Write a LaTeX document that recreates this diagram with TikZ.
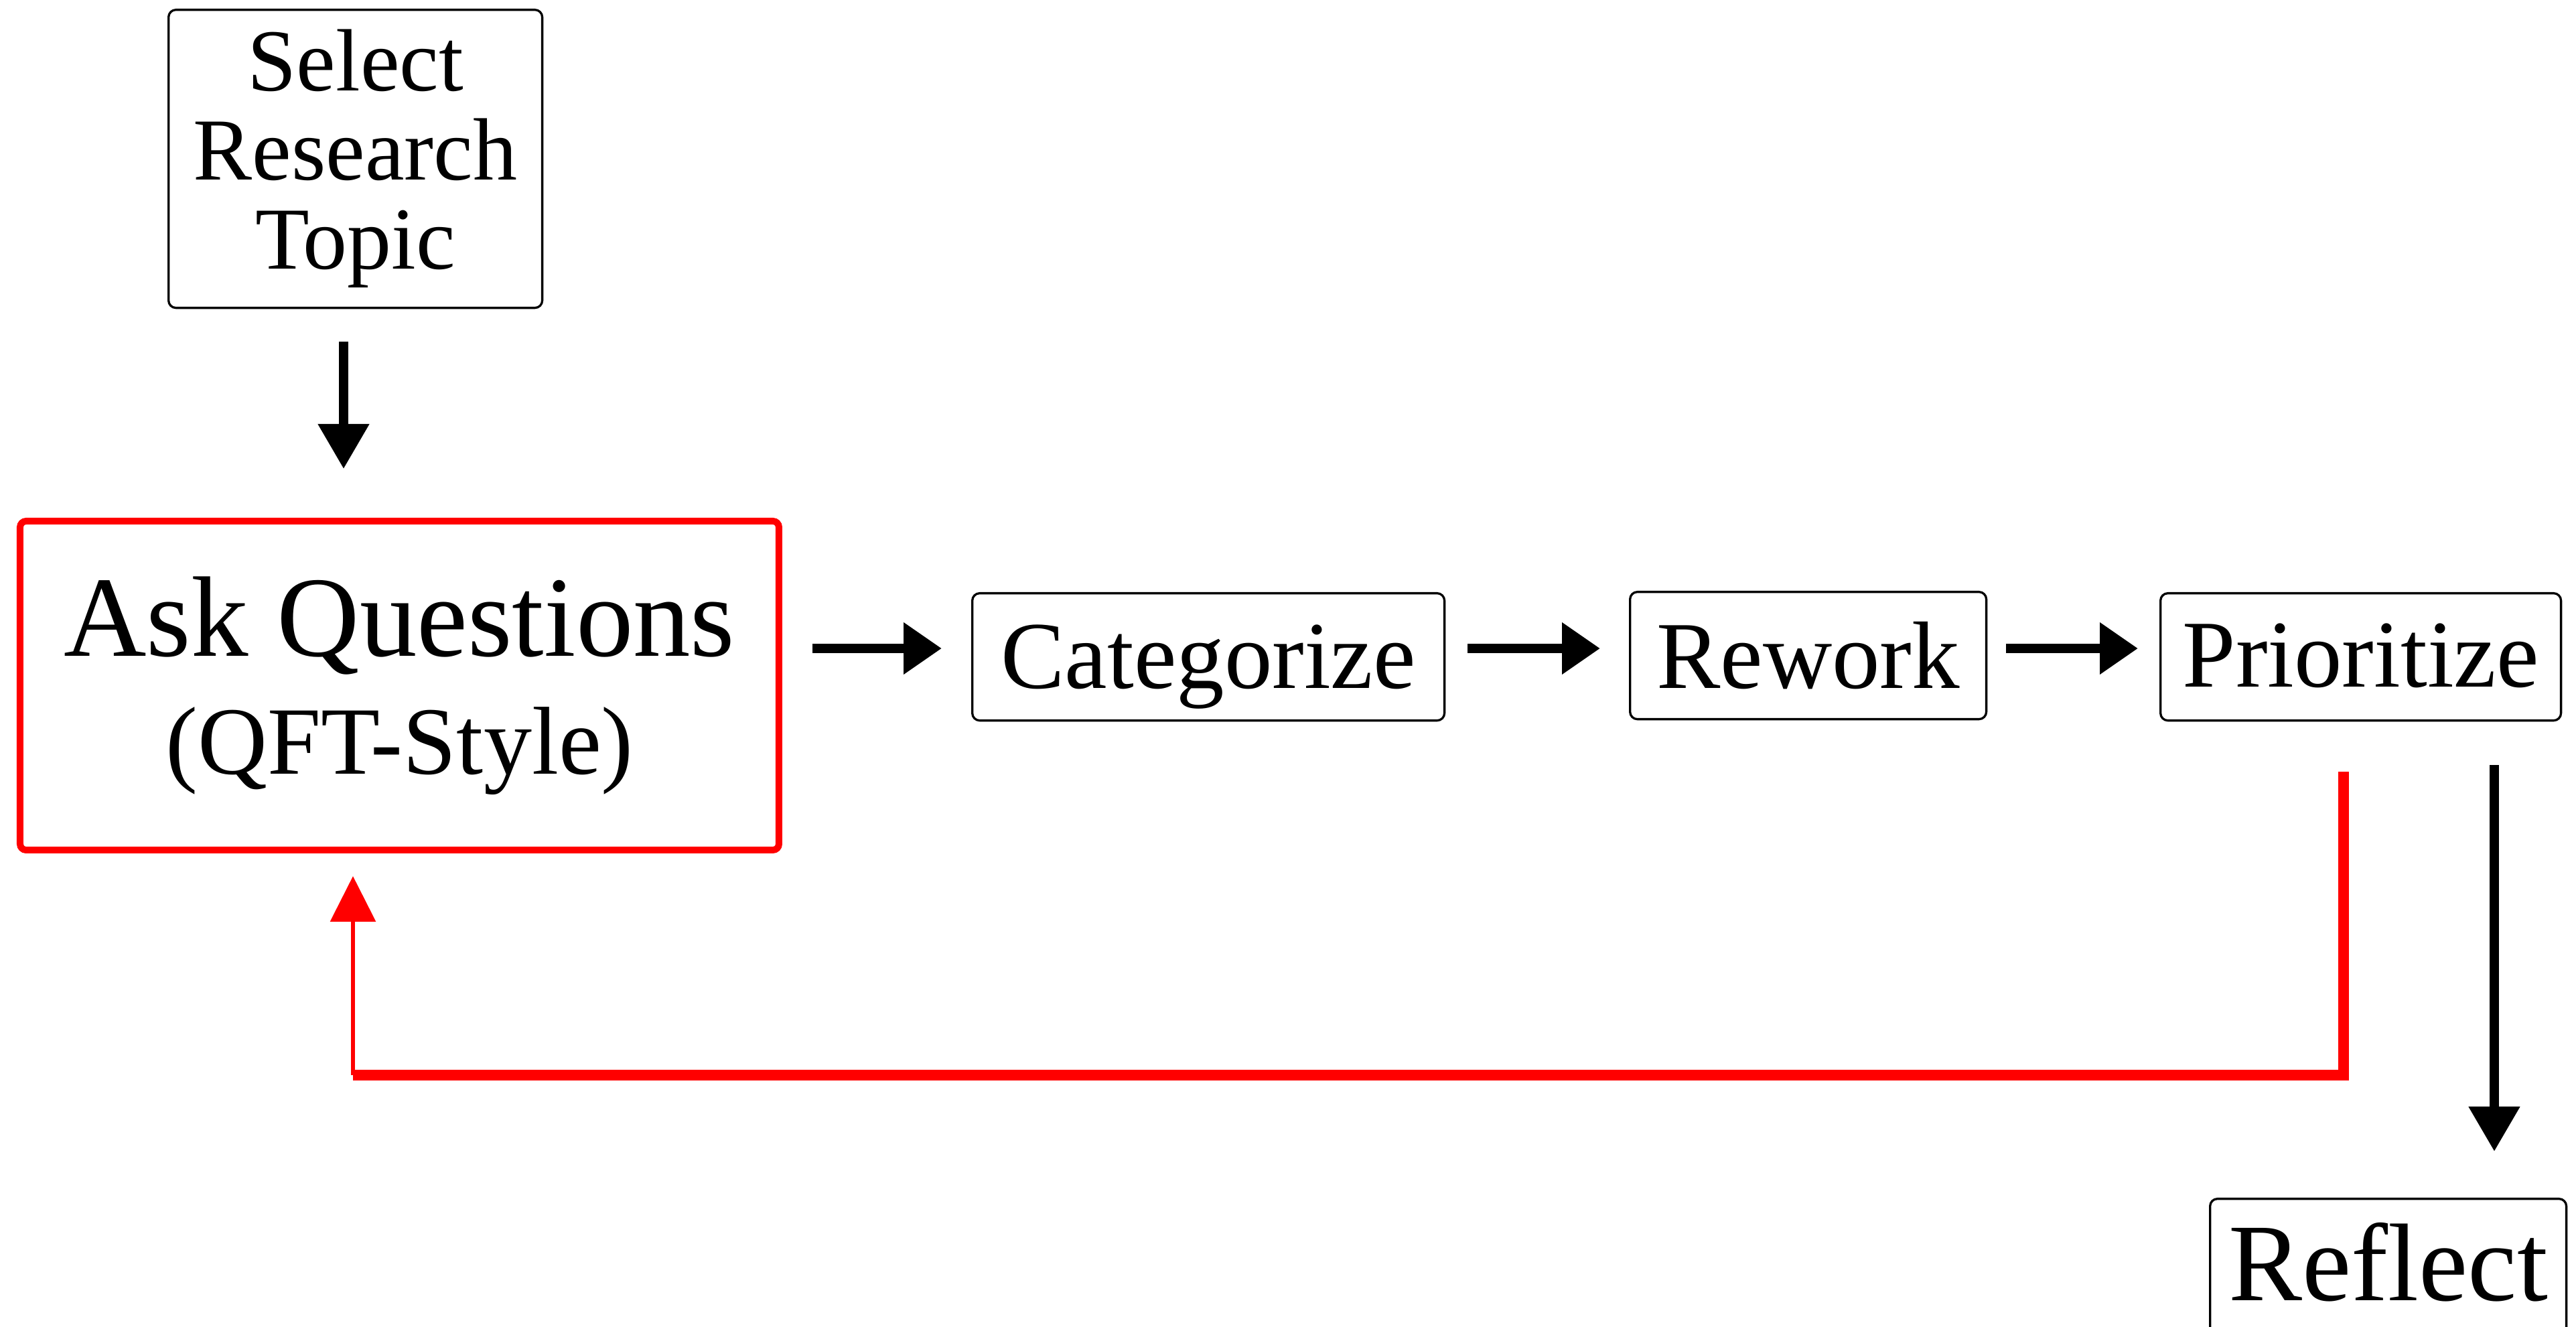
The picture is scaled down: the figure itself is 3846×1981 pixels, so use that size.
\documentclass[tikz,border=0pt]{standalone}
\usepackage{fontspec}
\setmainfont{Liberation Serif}
\usetikzlibrary{arrows.meta,calc}
\begin{document}
\begin{tikzpicture}[x=0.1pt,y=-0.1pt,
  box/.style={draw=black, line width=0.33pt, rounded corners=1.1pt, inner sep=0pt, anchor=north west},
  redbox/.style={draw=red, line width=1.0pt, rounded corners=0.9pt, inner sep=0pt, anchor=north west},
  stepfont/.style={font=\fontsize{14.3pt}{16pt}\selectfont},
  varr/.style={line width=1.45pt, -{Triangle[width=7.3pt,length=6.7pt]}},
  harr/.style={line width=1.45pt, -{Triangle[width=7.4pt,length=5.7pt]}},
  redline/.style={draw=red, line width=1.65pt, line join=miter},
  redarr/.style={draw=red, line width=0.65pt, -{Triangle[width=6.7pt,length=6.8pt]}}
]
\path[use as bounding box, clip] (0,0) rectangle (3846,1981);

% nodes
\node[box, minimum width=55.8pt, minimum height=44.5pt, align=center,
      font=\fontsize{13.2pt}{13.3pt}\selectfont] (sel) at (250,13) {Select\\Research\\Topic};
\node[redbox, minimum width=113.3pt, minimum height=49.1pt, align=center,
      font=\fontsize{17.1pt}{17.6pt}\selectfont] (ask) at (25,773)
      {Ask Questions\\{\fontsize{14.4pt}{17.6pt}\selectfont (QFT-Style)}};
\node[box, stepfont, minimum width=70.5pt, text height=14.2pt, text depth=4.8pt] (cat) at (1450,884) {Categorize};
\node[box, stepfont, minimum width=53.2pt, text height=14.4pt, text depth=4.6pt] (rew) at (2432,882) {Rework};
\node[box, stepfont, minimum width=59.8pt, text height=14.0pt, text depth=5.0pt] (pri) at (3224,884) {Prioritize};
\node[box, font=\fontsize{16.5pt}{18pt}\selectfont, minimum width=53.2pt, text height=15.2pt, text depth=5.8pt] (ref) at (3298,1788) {Reflect};

% helper coordinates
\coordinate (xa) at (513,0);
\coordinate (yh) at (0,968);
\coordinate (xr) at (3724,0);
\coordinate (xq) at (3499,0);
\coordinate (xl) at (527,0);
\coordinate (yr) at (0,1605);

% black connectors
\draw[varr, shorten <=4.9pt, shorten >=7.3pt] (sel.south -| xa) -- (ask.north -| xa);
\draw[harr, shorten <=4.5pt, shorten >=4.4pt] (ask.east |- yh) -- (cat.west |- yh);
\draw[harr, shorten <=3.3pt, shorten >=4.3pt] (cat.east |- yh) -- (rew.west |- yh);
\draw[harr, shorten <=2.8pt, shorten >=3.2pt] (rew.east |- yh) -- (pri.west |- yh);
\draw[varr, shorten <=6.5pt, shorten >=6.9pt] (pri.south -| xr) -- (ref.north -| xr);

% red feedback loop
\draw[redline] ($(pri.south -| xq)+(0,75)$) -- (xq |- yr) -- (xl |- yr);
\draw[redarr, shorten >=3.4pt] (xl |- yr) -- (ask.south -| xl);
\end{tikzpicture}
\end{document}
